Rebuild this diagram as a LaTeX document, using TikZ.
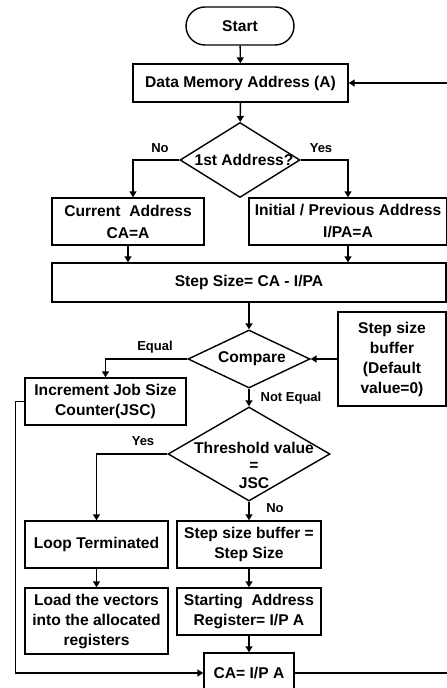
\documentclass[tikz,border=0pt]{standalone}
\usepackage{fontspec}
\setmainfont{Liberation Sans}
\usetikzlibrary{arrows.meta,shapes.geometric}
\begin{document}
\begin{tikzpicture}[x=1pt,y=-1pt,
  line width=1.4pt,
  >={Triangle[length=6pt,width=7pt]},
  box/.style={draw,rectangle,inner sep=0pt,align=center,font=\fontsize{15.6}{20}\bfseries\selectfont},
  dia/.style={draw,diamond,inner sep=0pt},
  txt/.style={inner sep=0pt,align=center,font=\fontsize{15.6}{20}\bfseries\selectfont},
  lbl/.style={inner sep=0pt,font=\fontsize{13}{15}\bfseries\selectfont}
]
\useasboundingbox (0,0) rectangle (447,688);
\clip (0,0) rectangle (447,688);

\node[box, rounded corners=19pt, minimum width=108pt, minimum height=38pt] (start) at (240,26) {Start};
\node[box, minimum width=215pt, minimum height=38pt] (dma) at (240.5,83) {Data Memory Address (A)};
\node[dia, minimum width=120pt, minimum height=75pt] (q1) at (240,160) {};
\node[txt] (q1t) at (244,160) {1st Address?};
\node[box, minimum width=152pt, minimum height=47pt, font=\fontsize{15.6}{22}\bfseries\selectfont] (ca) at (128,221.5) {Current~~Address\\CA=A};
\node[box, minimum width=198pt, minimum height=47pt, font=\fontsize{15.6}{22}\bfseries\selectfont] (ipa) at (348,221.5) {Initial / Previous Address\\I/PA=A};
\node[box, minimum width=394pt, minimum height=39pt] (step) at (249,282.5) {Step Size= CA - I/PA};
\node[dia, minimum width=122pt, minimum height=58pt] (cmp) at (249,359) {};
\node[txt] (cmpt) at (252,359) {Compare};
\node[box, minimum width=108pt, minimum height=94pt] (ssb) at (392,359) {Step size\\buffer\\(Default\\value=0)};
\node[box, minimum width=161pt, minimum height=47pt] (inc) at (105.5,401.5) {Increment Job Size\\Counter(JSC)};
\node[dia, minimum width=162pt, minimum height=94pt] (thr) at (249,454) {};
\node[txt, font=\fontsize{15.6}{17.5}\bfseries\selectfont] (thrt) at (254,465) {Threshold value\\=\\JSC};
\node[box, minimum width=143pt, minimum height=47pt] (loop) at (96.5,544.5) {Loop Terminated};
\node[box, minimum width=144pt, minimum height=47pt] (ssb2) at (249,544.5) {Step size buffer =\\Step Size};
\node[box, minimum width=143pt, minimum height=66pt] (load) at (96.5,621) {Load the vectors\\into the allocated\\registers};
\node[box, minimum width=144pt, minimum height=47pt] (sar) at (249,611.5) {Starting~~Address\\Register= I/P A};
\node[box, minimum width=90pt, minimum height=40pt] (cai) at (249,673) {CA= I/P A};

\node[lbl] (lno1) at (160,148) {No};
\node[lbl] (lyes1) at (321,148) {Yes};
\node[lbl] (leq) at (155,347) {Equal};
\node[lbl] (lne) at (291,398) {Not Equal};
\node[lbl] (lyes2) at (143,441) {Yes};
\node[lbl] (lno2) at (275,508) {No};

\coordinate (rr) at (470,0);

\draw[->] (start) -- (dma);
\draw[->] (dma) -- (q1);
\draw[->] (q1.west) -| ([xshift=5pt]ca.north);
\draw[->] (q1.east) -| (ipa.north);
\draw[->] (ca.south) -- (ca.south |- step.north);
\draw[->] (ipa.south) -- (ipa.south |- step.north);
\draw[->] (step.south -| cmp.north) -- (cmp.north);
\draw[->] (ssb.west) -- (cmp.east);
\draw[->] (cmp.west) -| (inc.north);
\draw[->] (cmp.south) -- (thr.north);
\draw[->] (thr.west) -| (loop.north);
\draw[->] (thr.south) -- (ssb2.north);
\draw[->] (loop) -- (load);
\draw[->] (ssb2) -- (sar);
\draw[->] (sar) -- (cai);
\draw[->] (inc.west) -- ++(-9,0) |- (cai.west);
\draw[->] (cai.east) -- (cai.east -| rr) -- (rr |- dma.east) -- (dma.east);
\end{tikzpicture}
\end{document}
